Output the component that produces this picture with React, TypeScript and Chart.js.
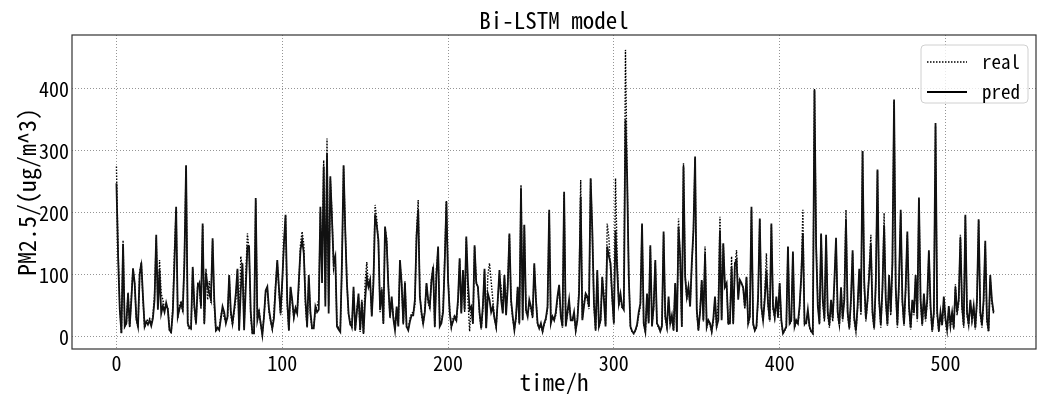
import React, { useEffect, useRef } from "react";
import { Chart, registerables } from "chart.js";

Chart.register(...registerables);

const FONT = "'Noto Sans Mono CJK SC', 'Liberation Mono', monospace";

const chartTitle = "Bi-LSTM model";
const xTitle = "time/h";
const yTitle = "PM2.5/(ug/m^3)";
const seriesNames = ["real", "pred"];

// hourly PM2.5 values (index = hour)
const predPM = [
  248,130,45,6,150,17,22,70,17,60,
  110,87,30,17,100,120,65,17,25,20,
  27,18,30,60,165,44,108,38,50,40,
  55,44,11,8,40,120,210,33,45,54,
  44,120,277,22,15,14,113,50,22,81,
  87,49,183,22,103,81,70,60,159,60,
  11,15,11,30,49,40,22,33,100,40,
  22,44,70,110,11,76,119,11,80,146,
  146,40,6,6,224,27,40,22,3,33,
  75,81,45,27,14,30,80,124,80,38,
  90,150,197,60,11,81,60,33,46,38,
  90,140,156,135,60,17,100,40,14,14,
  49,40,44,210,87,275,49,296,38,259,
  190,119,130,17,12,8,120,277,172,87,
  38,20,17,81,11,40,70,11,57,6,
  60,97,81,92,33,87,197,180,156,44,
  76,22,178,151,81,33,65,30,11,49,
  17,124,87,22,87,17,11,25,35,35,
  60,162,205,65,40,22,40,87,60,49,
  90,113,17,100,146,17,22,40,120,218,
  92,40,17,25,33,27,60,127,38,108,
  44,162,90,44,49,22,148,87,81,40,
  14,50,110,14,70,60,40,49,30,17,
  60,108,60,38,100,35,80,167,60,33,
  11,33,81,22,240,27,181,44,33,60,
  49,33,119,60,22,14,22,9,22,30,
  49,205,22,33,27,40,65,84,33,17,
  234,17,40,60,27,27,40,11,27,70,
  226,27,50,70,65,49,256,172,54,11,
  108,17,27,97,60,17,146,130,119,65,
  22,172,108,54,70,49,44,350,259,97,
  17,9,6,11,20,40,54,183,22,9,
  70,22,148,17,50,124,22,17,9,17,
  170,33,17,65,22,35,11,87,9,178,
  130,17,275,97,65,81,49,119,172,291,
  44,11,40,92,27,135,17,27,22,9,
  30,65,17,27,172,27,151,81,87,22,
  22,113,22,119,124,60,92,87,79,49,
  97,22,33,210,22,11,17,65,191,49,
  27,60,108,54,27,183,49,33,65,33,
  87,27,6,11,17,146,22,27,138,17,
  27,22,50,97,167,22,22,44,17,9,
  6,398,146,50,22,167,60,30,165,40,
  20,60,30,90,160,40,20,80,30,60,
  190,40,15,60,140,30,10,50,110,40,
  300,90,30,60,100,150,40,15,90,270,
  60,20,80,180,60,20,100,40,120,383,
  80,20,90,205,60,20,80,170,50,15,
  60,40,100,30,225,60,20,70,30,60,
  140,50,10,40,345,40,10,40,20,65,
  30,10,50,20,40,15,80,40,60,160,
  50,20,197,40,20,60,30,50,15,60,
  190,40,20,60,155,30,10,100,60,40,
];

const realPM = [
  275,140,50,6,156,17,22,72,15,65,
  112,85,28,15,105,118,60,15,22,28,
  30,20,35,70,160,50,124,70,60,45,
  50,48,12,6,50,140,205,30,50,58,
  40,130,275,20,12,12,110,45,20,85,
  80,45,180,20,110,60,90,55,155,50,
  10,12,15,35,45,30,25,30,98,35,
  20,40,60,108,10,130,110,15,100,167,
  140,30,5,8,220,30,45,20,5,35,
  72,78,40,25,12,40,85,120,75,35,
  85,150,195,50,10,80,55,30,48,40,
  80,150,170,150,50,15,95,35,12,16,
  45,50,60,200,95,285,60,320,50,255,
  200,110,125,20,15,10,110,275,175,90,
  35,25,15,75,10,45,65,8,60,5,
  90,121,80,90,35,95,213,190,150,40,
  80,20,175,160,85,30,60,35,12,45,
  20,120,85,20,90,15,12,30,38,40,
  50,170,221,70,35,20,45,85,55,45,
  95,110,15,110,140,20,25,45,130,220,
  95,45,15,30,35,25,55,125,40,105,
  40,160,60,9,50,20,145,90,80,35,
  12,45,105,15,100,119,90,60,30,15,
  58,100,80,40,95,40,90,165,55,30,
  12,30,80,20,245,30,180,40,35,55,
  45,30,115,65,20,15,18,8,20,28,
  45,200,25,30,28,35,60,80,35,15,
  230,20,35,55,30,25,35,10,30,80,
  253,30,55,70,60,45,255,170,50,10,
  105,15,25,95,70,20,183,160,110,60,
  20,256,130,50,65,45,50,463,269,100,
  15,8,5,10,18,35,50,180,20,8,
  65,25,145,20,45,120,20,15,10,20,
  165,30,15,60,20,30,10,85,8,191,
  120,15,280,100,60,80,50,115,170,288,
  40,10,45,90,25,146,15,25,20,8,
  25,60,15,60,194,30,150,80,85,20,
  25,130,20,115,140,70,90,85,80,45,
  95,20,30,205,20,10,15,60,190,45,
  25,70,135,50,25,180,45,30,60,30,
  85,25,5,10,15,145,20,25,135,15,
  25,20,45,95,205,20,25,40,15,8,
  5,400,150,60,20,165,55,25,160,35,
  15,55,25,85,155,35,18,75,25,70,
  205,35,12,55,135,25,8,45,105,35,
  300,80,25,55,110,165,35,12,85,268,
  55,15,75,200,55,18,95,35,115,380,
  75,15,85,200,55,18,75,165,45,12,
  55,35,95,25,222,55,18,65,25,55,
  135,45,8,35,340,35,8,35,18,60,
  25,8,45,15,35,12,85,35,55,165,
  45,15,195,35,18,55,25,45,12,55,
  188,35,15,55,150,25,8,95,55,38,
];

const hours = realPM.map((_, i) => i);

const xTickValues = [0, 100, 200, 300, 400, 500];
const yTickValues = [0, 100, 200, 300, 400];

const framePlugin = {
  id: "frame",
  afterDraw(chart: any) {
    const { ctx, chartArea } = chart;
    ctx.save();
    ctx.strokeStyle = "#333";
    ctx.lineWidth = 1.2;
    ctx.strokeRect(chartArea.left, chartArea.top, chartArea.right - chartArea.left, chartArea.bottom - chartArea.top);
    ctx.restore();
  },
};

const legendPlugin = {
  id: "boxLegend",
  afterDraw(chart: any) {
    const { ctx, chartArea } = chart;
    const w = 107, h = 58;
    const x = chartArea.right - 8 - w;
    const y = chartArea.top + 10;
    ctx.save();
    ctx.beginPath();
    const r = 4;
    ctx.moveTo(x + r, y);
    ctx.lineTo(x + w - r, y);
    ctx.quadraticCurveTo(x + w, y, x + w, y + r);
    ctx.lineTo(x + w, y + h - r);
    ctx.quadraticCurveTo(x + w, y + h, x + w - r, y + h);
    ctx.lineTo(x + r, y + h);
    ctx.quadraticCurveTo(x, y + h, x, y + h - r);
    ctx.lineTo(x, y + r);
    ctx.quadraticCurveTo(x, y, x + r, y);
    ctx.closePath();
    ctx.fillStyle = "rgba(255,255,255,0.8)";
    ctx.fill();
    ctx.strokeStyle = "#d0d0d0";
    ctx.lineWidth = 1;
    ctx.stroke();
    const rows = [y + 17, y + 47];
    ctx.strokeStyle = "#000";
    ctx.lineWidth = 1.3;
    ctx.setLineDash([1.5, 1.5]);
    ctx.beginPath();
    ctx.moveTo(x + 6, rows[0]);
    ctx.lineTo(x + 46, rows[0]);
    ctx.stroke();
    ctx.setLineDash([]);
    ctx.lineWidth = 1.8;
    ctx.beginPath();
    ctx.moveTo(x + 6, rows[1]);
    ctx.lineTo(x + 46, rows[1]);
    ctx.stroke();
    ctx.fillStyle = "#000";
    ctx.font = `19px ${FONT}`;
    ctx.textBaseline = "middle";
    ctx.textAlign = "left";
    ctx.fillText(seriesNames[0], x + 61, rows[0]);
    ctx.fillText(seriesNames[1], x + 61, rows[1]);
    ctx.restore();
  },
};

export default function App() {
  const ref = useRef<HTMLCanvasElement | null>(null);
  useEffect(() => {
    if (!ref.current) return;
    const chart = new Chart(ref.current, {
      type: "line",
      data: {
        datasets: [
          {
            label: seriesNames[0],
            data: hours.map((h, i) => ({ x: h, y: realPM[i] })),
            borderColor: "#000",
            borderWidth: 1.4,
            borderDash: [1.5, 1.5],
            pointRadius: 0,
            tension: 0,
            fill: false,
            order: 1,
          },
          {
            label: seriesNames[1],
            data: hours.map((h, i) => ({ x: h, y: predPM[i] })),
            borderColor: "#111",
            borderWidth: 1.8,
            pointRadius: 0,
            tension: 0,
            fill: false,
            order: 0,
          },
        ],
      },
      options: {
        animation: false,
        responsive: false,
        maintainAspectRatio: false,
        devicePixelRatio: 1,
        layout: { padding: { left: 0, right: 5, top: 0, bottom: 0 } },
        plugins: {
          legend: { display: false },
          tooltip: { enabled: false },
          title: {
            display: true,
            text: chartTitle,
            fullSize: false,
            color: "#000",
            font: { family: FONT, size: 23, lineHeight: 1, weight: "normal" },
            padding: { top: 8.5, bottom: 3.5 },
          },
        },
        scales: {
          x: {
            type: "linear",
            min: -26.8,
            max: 554.6,
            afterFit: (s: any) => { s.height = 45; },
            afterBuildTicks: (s: any) => { s.ticks = xTickValues.map((v) => ({ value: v })); },
            ticks: { font: { family: FONT, size: 20 }, color: "#000", padding: 2, maxRotation: 0 },
            grid: { color: "#7a7a7a", lineWidth: 0.8, drawTicks: false },
            border: { display: false, dash: [1, 2] },
            title: { display: true, text: xTitle, color: "#000", font: { family: FONT, size: 23, lineHeight: 1 }, padding: { top: 0, bottom: 0 } },
          },
          y: {
            type: "linear",
            min: -19.4,
            max: 487,
            afterFit: (s: any) => { s.width = 72; },
            afterBuildTicks: (s: any) => { s.ticks = yTickValues.map((v) => ({ value: v })); },
            ticks: { font: { family: FONT, size: 20 }, color: "#000", padding: 3 },
            grid: { color: "#7a7a7a", lineWidth: 0.8, drawTicks: false },
            border: { display: false, dash: [1, 2] },
            title: { display: true, text: yTitle, color: "#000", font: { family: FONT, size: 24, lineHeight: 1 }, padding: { top: 15, bottom: 0 } },
          },
        },
      },
      plugins: [framePlugin, legendPlugin],
    });
    return () => chart.destroy();
  }, []);
  return (
    <div style={{ position: "absolute", left: 0, top: 0, width: 1041, height: 394, background: "#fff" }}>
      <canvas ref={ref} width={1041} height={394} style={{ display: "block" }} />
    </div>
  );
}
